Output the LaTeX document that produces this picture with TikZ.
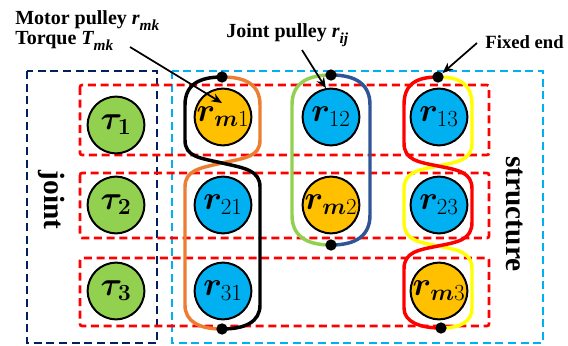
\documentclass[tikz,border=0pt]{standalone}
\usepackage{fontspec}
\setmainfont{Liberation Serif}
\usepackage{amsmath,bm}
\usetikzlibrary{arrows.meta}

\definecolor{cgreen}{HTML}{92D050}
\definecolor{cgold}{HTML}{FFC000}
\definecolor{cblue}{HTML}{00B0F0}
\definecolor{cnavy}{HTML}{002060}
\definecolor{corange}{HTML}{ED7D31}
\definecolor{cdblue}{HTML}{2F5597}
\definecolor{cyellow}{HTML}{FFFF00}
\definecolor{cred}{HTML}{FF0000}

% bold italic symbol with a bold italic subscript, for the labels
\newcommand{\bsym}[2]{{\bfseries\itshape #1\raisebox{-0.28em}{\fontsize{11.5}{12}\selectfont #2}}}

\tikzset{
  pulley/.style={circle, draw=black, line width=1.5pt, minimum size=42.5pt,
    inner sep=0pt, font=\fontsize{23.5}{26}\selectfont},
  dashbox/.style={line width=2pt, dash pattern=on 6pt off 3.5pt},
  cable/.style={line width=2.6pt, line cap=round},
  fixdot/.style={circle, fill=black, minimum size=8.5pt, inner sep=0pt},
  pointer/.style={line width=1.3pt, -{Stealth[length=8pt,width=6.5pt]}},
  lbl/.style={font=\fontsize{15}{17}\selectfont\bfseries, anchor=base west, inner sep=0pt},
  sidetitle/.style={font=\fontsize{22}{24}\selectfont\bfseries, rotate=-90, inner sep=0pt},
}

\begin{document}
\begin{tikzpicture}[x=0.75pt, y=-0.75pt]
\useasboundingbox (0,0) rectangle (568,346);

% group frames
\draw[dashbox, cnavy] (27,71) rectangle (157,343);
\draw[dashbox, cblue] (172,71) rectangle (543,343);

% row frames
\draw[dashbox, cred, rounded corners=1.5pt] (80,85) rectangle (489,155);
\draw[dashbox, cred, rounded corners=1.5pt] (80,173) rectangle (489,238);
\draw[dashbox, cred, rounded corners=1.5pt] (80,258) rectangle (489,326);

% side titles
\node[sidetitle] (tjoint) at (52,200) {joint};
\node[sidetitle] (tstruct) at (515,214) {structure};

% joints
\node[pulley, fill=cgreen] (t1) at (116,125) {$\bm{\tau_1}$};
\node[pulley, fill=cgreen] (t2) at (116,205) {$\bm{\tau_2}$};
\node[pulley, fill=cgreen] (t3) at (116,291) {$\bm{\tau_3}$};

% pulleys
\node[pulley, fill=cgold] (m1)  at (223,117) {$\bm{r}_{\bm{m}1}$};
\node[pulley, fill=cblue] (p12) at (331,117) {$\bm{r}_{12}$};
\node[pulley, fill=cblue] (p13) at (439,117) {$\bm{r}_{13}$};
\node[pulley, fill=cblue] (p21) at (223,205) {$\bm{r}_{21}$};
\node[pulley, fill=cgold] (m2)  at (331,205) {$\bm{r}_{\bm{m}2}$};
\node[pulley, fill=cblue] (p23) at (439,205) {$\bm{r}_{23}$};
\node[pulley, fill=cblue] (p31) at (223,291) {$\bm{r}_{31}$};
\node[pulley, fill=cgold] (m3)  at (439,291) {$\bm{r}_{\bm{m}3}$};

% cable end points
\coordinate (d1t) at (222,77);
\coordinate (d1b) at (222,329);
\coordinate (d2t) at (331,75);
\coordinate (d2b) at (331,245);
\coordinate (d3t) at (438,77);
\coordinate (d3b) at (441,328);

% cable 1
\draw[cable, corange] (d1t) .. controls (245,77) and (260,84) .. (260,105) -- (260,140)
  .. controls (260,157) and (245,158) .. (222,163)
  .. controls (200,168) and (185,170) .. (185,187) -- (185,305)
  .. controls (185,322) and (200,329) .. (d1b);
\draw[cable, black] (d1t) .. controls (200,77) and (185,84) .. (185,105) -- (185,140)
  .. controls (185,157) and (200,158) .. (222,163)
  .. controls (244,168) and (260,170) .. (260,187) -- (260,305)
  .. controls (260,322) and (245,329) .. (d1b);

% cable 2
\draw[cable, cgreen] (d2t) .. controls (305,75) and (292,85) .. (292,105) -- (292,215)
  .. controls (292,235) and (305,245) .. (d2b);
\draw[cable, cdblue] (d2t) .. controls (357,75) and (370,85) .. (370,105) -- (370,215)
  .. controls (370,235) and (357,245) .. (d2b);

% cable 3
\draw[cable, cyellow] (d3t) .. controls (461,77) and (472,85) .. (472,105) -- (472,143)
  .. controls (472,160) and (458,162) .. (438,166)
  .. controls (418,170) and (404,172) .. (404,189) -- (404,222)
  .. controls (404,240) and (418,242) .. (438,246)
  .. controls (458,250) and (472,252) .. (472,269) -- (472,308)
  .. controls (472,322) and (460,328) .. (d3b);
\draw[cable, cred] (d3t) .. controls (415,77) and (404,85) .. (404,105) -- (404,143)
  .. controls (404,160) and (418,162) .. (438,166)
  .. controls (458,170) and (472,172) .. (472,189) -- (472,222)
  .. controls (472,240) and (458,242) .. (438,246)
  .. controls (418,250) and (404,252) .. (404,269) -- (404,308)
  .. controls (404,322) and (420,328) .. (d3b);

% fixed ends
\foreach \d in {d1t,d1b,d2t,d2b,d3t,d3b}
  \node[fixdot] (\d-dot) at (\d) {};

% labels
\node[lbl] (lmotor)  at (15,25) {Motor pulley \bsym{r}{mk}};
\node[lbl] (ltorque) at (15,45) {Torque \bsym{T}{mk}};
\node[lbl] (ljoint)  at (226,38) {Joint pulley \bsym{r}{ij}};
\node[lbl, anchor=base east, font=\fontsize{14}{16}\selectfont\bfseries] (lfixed) at (564,49) {Fixed end};

% pointers
\coordinate (a1s) at (130,47);
\coordinate (a1e) at (222,103);
\coordinate (a2s) at (302,50);
\coordinate (a3s) at (477,43);
\draw[pointer] (a1s) -- (a1e);
\draw[pointer] (a2s) -- (p12.100);
\draw[pointer] (a3s) -- (d3t-dot);
\end{tikzpicture}
\end{document}
